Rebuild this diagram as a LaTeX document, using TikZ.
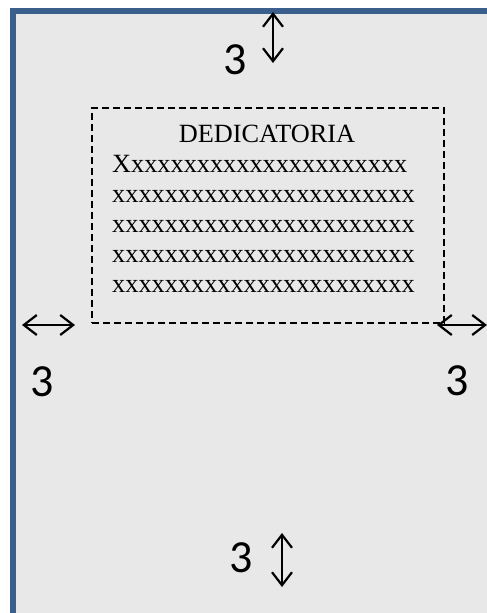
\documentclass[tikz,border=0pt]{standalone}
\usepackage{fontspec}
\setmainfont{Liberation Serif}
\newfontfamily\numfont{Carlito}
\usetikzlibrary{arrows.meta}
\definecolor{pageblue}{HTML}{3A5F8C}
\definecolor{pagegrey}{HTML}{E8E8E8}
\begin{document}
\begin{tikzpicture}[x=1pt,y=-1pt,
  dimarrow/.style={line width=2.2pt,
    {Straight Barb[length=13pt,width=20pt]}-{Straight Barb[length=13pt,width=20pt]}},
  num/.style={font=\numfont\fontsize{46}{46}\selectfont, inner sep=0pt, anchor=center},
  textline/.style={font=\fontsize{26.3}{30}\selectfont, inner sep=0pt, anchor=base west},
  margbox/.style={draw, dash pattern=on 7pt off 4pt, line width=2pt,
    inner sep=0pt, anchor=north west, minimum width=352pt, minimum height=215pt}]
\useasboundingbox (0,0) rectangle (487,613);
\fill[white] (0,0) rectangle (487,613);
\draw[pageblue, line width=5.5pt, fill=pagegrey] (12.75,10.75) rectangle (520,650);

\node[margbox] (frame) at (91,107) {};
\node[font=\fontsize{26.3}{30}\selectfont, inner sep=0pt, anchor=base] (title) at (267,142.7) {DEDICATORIA};
\node[textline] (l1) at (112,172.7) {Xxxxxxxxxxxxxxxxxxxxxx};
\node[textline] (l2) at (112,202.7) {xxxxxxxxxxxxxxxxxxxxxxx};
\node[textline] (l3) at (112,232.7) {xxxxxxxxxxxxxxxxxxxxxxx};
\node[textline] (l4) at (112,262.7) {xxxxxxxxxxxxxxxxxxxxxxx};
\node[textline] (l5) at (112,292.7) {xxxxxxxxxxxxxxxxxxxxxxx};

\coordinate (t1) at (273,12);
\coordinate (t2) at (273,63);
\coordinate (la) at (22,325);
\coordinate (lb) at (75,325);
\coordinate (ra) at (437,325);
\coordinate (rb) at (487,325);
\coordinate (b1) at (282,533);
\coordinate (b2) at (282,587);
\draw[dimarrow] (t1) -- (t2);
\draw[dimarrow] (la) -- (lb);
\draw[dimarrow] (ra) -- (rb);
\draw[dimarrow] (b1) -- (b2);

\node[num] (ntop) at (235,60) {3};
\node[num] (nleft) at (42.5,382) {3};
\node[num] (nright) at (457,381) {3};
\node[num] (nbot) at (241.5,558) {3};
\end{tikzpicture}
\end{document}
